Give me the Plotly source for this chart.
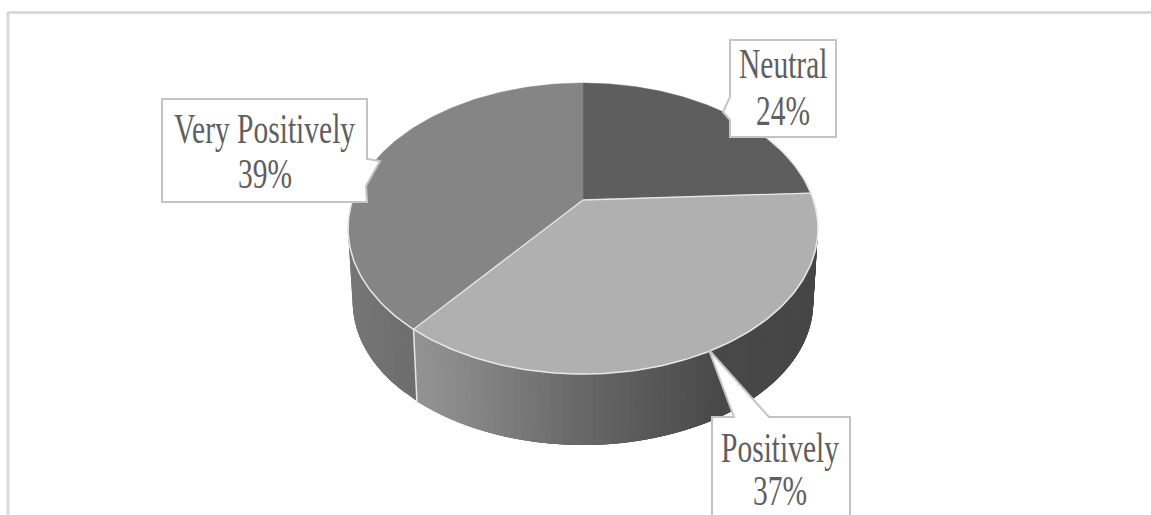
import numpy as np
import plotly.graph_objects as go

categories = ["Neutral", "Positively", "Very Positively"]
values = [24.2, 36.5, 39.3]
percent_labels = ["24%", "37%", "39%"]
top_colors = ["#5e5e5e", "#b0b0b0", "#858585"]

W, H = 1151, 515
CX, Y0, A, B, K = 583, 200, 139.9, 230.4, 0.196   # top face projection
Y0B, SB = 274.5, 0.98                             # bottom face projection
EDGE = "#e8e8e8"

fracs = np.cumsum([0] + values) / sum(values) * 2 * np.pi

def proj(theta, bottom=False):
    u, v = np.sin(theta), np.cos(theta)
    d = 1 + K * v
    s = SB if bottom else 1.0
    y0 = Y0B if bottom else Y0
    return CX + s * B * u / d, y0 - s * A * v / d

def side_shade(theta):
    x = proj(theta)[0]
    if theta > fracs[2]:  # Very Positively wall
        return np.interp(x, [348, 418], [118, 108])
    return np.interp(x, [418, 440, 580, 725, 820], [146, 142, 104, 72, 70])

fig = go.Figure()

# side wall, drawn as overlapping strips so no seams show between them
pos_edges = np.linspace(np.pi * 0.47, fracs[2], 110)
vp_edges = np.linspace(fracs[2], np.pi * 1.53, 16)
for group in (pos_edges, vp_edges):
    step = group[1] - group[0]
    for j, t0 in enumerate(group[:-1]):
        t1 = group[j + 1]
        t_end = min(t1 + 3 * step, group[-1])
        ts = np.linspace(t0, t_end, 6)
        xt, yt = proj(ts)
        xb, yb = proj(ts[::-1], bottom=True)
        g = int(round(side_shade((t0 + t1) / 2)))
        c = f"rgb({g},{g},{g})"
        fig.add_trace(go.Scatter(x=np.r_[xt, xb], y=np.r_[yt, yb], fill="toself", fillcolor=c,
                                 mode="lines", line=dict(color=c, width=0), hoverinfo="skip", showlegend=False))

# seam between the two visible walls
sx = [proj(fracs[2])[0], proj(fracs[2], bottom=True)[0]]
sy = [proj(fracs[2])[1], proj(fracs[2], bottom=True)[1]]
fig.add_trace(go.Scatter(x=sx, y=sy, mode="lines", line=dict(color=EDGE, width=1.5),
                         hoverinfo="skip", showlegend=False))

# top face wedges
for i, name in enumerate(categories):
    ts = np.linspace(fracs[i], fracs[i + 1], 140)
    xt, yt = proj(ts)
    fig.add_trace(go.Scatter(x=np.r_[CX, xt, CX], y=np.r_[Y0, yt, Y0], fill="toself",
                             fillcolor=top_colors[i], mode="lines", name=name,
                             line=dict(color=top_colors[i], width=0.5), showlegend=False,
                             hovertemplate=f"{name}: {percent_labels[i]}<extra></extra>"))

# light edges on the top face
ts = np.linspace(fracs[1] - 0.55, fracs[2] + 0.95, 200)
fig.add_trace(go.Scatter(x=proj(ts)[0], y=proj(ts)[1], mode="lines", line=dict(color=EDGE, width=1.5),
                         hoverinfo="skip", showlegend=False))
for f in fracs[1:3]:
    px, py = proj(f)
    fig.add_trace(go.Scatter(x=[CX, px], y=[Y0, py], mode="lines", line=dict(color=EDGE, width=1.3),
                             hoverinfo="skip", showlegend=False))

BOX = dict(type="path", xref="x", yref="y", layer="above", fillcolor="white",
           line=dict(color="#c4c4c4", width=2))
shapes = [
    dict(type="line", xref="x", yref="y", x0=8, x1=1151, y0=12.5, y1=12.5, line=dict(color="#d9d9d9", width=3)),
    dict(type="line", xref="x", yref="y", x0=8, x1=8, y0=12, y1=515, line=dict(color="#d9d9d9", width=3)),
    dict(BOX, path="M162,99 L367,99 L367,159 L380,161 L366,186 L367,202 L162,202 Z"),
    dict(BOX, path="M730,40 L836,40 L836,137 L730,137 L730,120 L723,112 L730,97 Z"),
    dict(BOX, path="M712,417 L734,417 L709,350 L769,417 L850,417 L850,530 L712,530 Z"),
]
fig.update_layout(shapes=shapes)

def label(x, y, text):
    fig.add_annotation(x=x, y=y, text=text, showarrow=False, xref="x", yref="y",
                       font=dict(family="Liberation Serif", size=29.5, color="#5f5f5f"))

label(264.5, 129, categories[2]); label(264.5, 174, percent_labels[2])
label(783, 64, categories[0]); label(783, 111, percent_labels[0])
label(780, 448, categories[1]); label(780, 490.5, percent_labels[1])

fig.update_layout(width=W, height=H, margin=dict(l=0, r=0, t=0, b=0), paper_bgcolor="white",
                  plot_bgcolor="white", showlegend=False,
                  xaxis=dict(range=[0, W], visible=False, fixedrange=True),
                  yaxis=dict(range=[H, 0], visible=False, fixedrange=True))

# the reference text is stretched vertically by about 1.45
stretch = """
document.body.style.margin='0';document.body.style.overflow='hidden';
document.querySelectorAll('.annotation-text').forEach(function(t){
  var b=t.getBBox(), cy=b.y+b.height/2;
  t.setAttribute('transform','translate(0,'+cy+') scale(1,1.45) translate(0,'+(-cy)+')');
});
"""
fig.write_html("out.html", config=dict(displayModeBar=False), post_script=stretch)
